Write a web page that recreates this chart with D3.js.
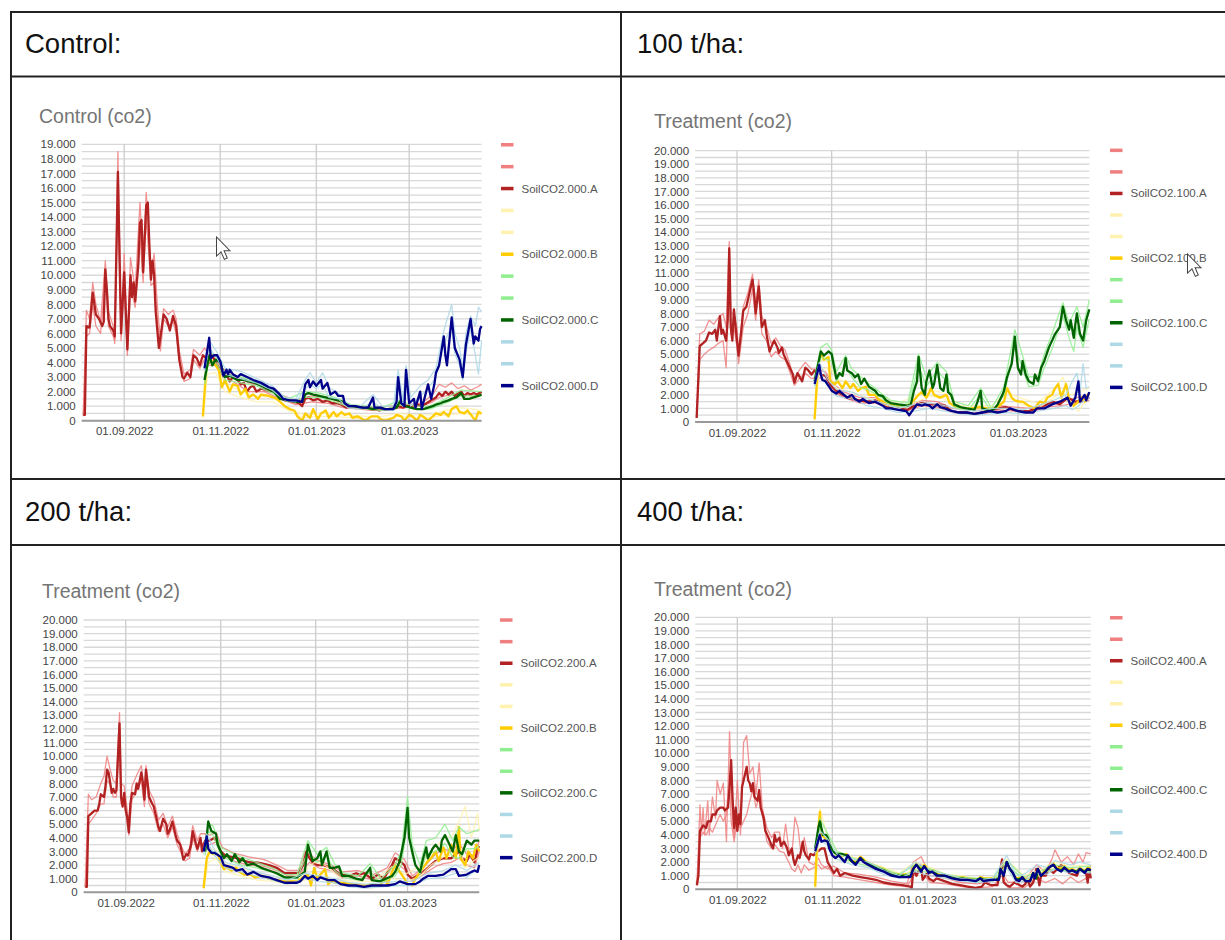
<!DOCTYPE html>
<html>
<head>
<meta charset="utf-8">
<script src="https://cdn.jsdelivr.net/npm/d3@7"></script>
<style>
  html, body { margin: 0; padding: 0; background: #fff; }
  svg { display: block; font-family: "Liberation Sans", Arial, Helvetica, sans-serif; }
</style>
</head>
<body>
<svg id="page" width="1225" height="940"></svg>
<script>
// Soil CO2 readings, values in thousands of ppm, keyed by day offset from 06.08.2022.
// Each plot: per plot letter one main sensor series plus two replicate series.

// ---------- Control (000) ----------
const s000A = [[0,0.4],[1,0.4],[2,6.5],[4,6.4],[6,8.8],[8,7.3],[10,7.0],[12,6.5],[13,6.8],[14,10.4],[15,9.0],[16,7.0],[17,6.5],[19,6.2],[20,5.8],[22,17.1],[24,6.0],[26,10.2],[28,4.9],[30,10.0],[31,8.5],[32,9.5],[33,8.2],[35,10.8],[36,13.6],[37,13.8],[38,10.2],[40,14.8],[41,15.0],[42,12.0],[43,9.7],[44,11.0],[45,10.0],[46,7.5],[48,5.0],[50,6.5],[51,7.3],[53,7.0],[55,6.2],[57,7.2],[59,6.5],[61,4.2],[63,3.0],[64,2.9],[66,3.3],[68,3.0],[70,4.5],[72,4.3],[74,3.8],[76,4.5],[78,4.3],[80,4.0],[82,4.5],[84,4.0],[87,3.5],[89,3.0],[91,3.2],[93,2.7],[95,3.0],[98,2.8],[100,2.5],[102,2.6],[104,2.0],[106,2.3],[108,2.4],[110,2.0],[113,2.2],[116,2.1],[119,2.0],[122,2.1],[125,1.6],[128,1.4],[131,1.4],[134,1.3],[137,1.2],[139,1.0],[141,1.5],[143,1.6],[146,1.4],[149,1.5],[152,1.3],[155,1.4],[158,1.2],[161,1.2],[164,1.1],[167,0.9],[170,1.0],[173,0.9],[176,0.9],[179,0.9],[182,0.8],[185,0.8],[188,0.7],[191,0.8],[194,0.8],[197,0.9],[200,1.0],[203,0.9],[206,1.0],[209,1.0],[212,1.1],[215,1.0],[218,1.2],[221,1.4],[224,1.6],[226,1.9],[228,1.7],[230,2.0],[232,1.8],[234,2.0],[236,1.7],[238,1.9],[240,2.0],[242,1.7],[244,1.9],[246,1.8],[248,1.9],[250,1.8],[253,2.0]];
const s000A_1 = [[0,0.4],[2,7.6],[4,7.0],[6,9.5],[8,8.0],[11,6.8],[14,11.0],[16,7.5],[19,6.5],[20,5.3],[22,18.5],[24,6.5],[26,11.5],[28,5.2],[30,11.2],[33,9.0],[36,15.0],[38,11.0],[40,15.7],[43,10.0],[45,11.5],[47,8.0],[49,5.5],[51,7.7],[54,7.3],[57,7.6],[59,7.0],[61,4.8],[64,3.2],[68,3.5],[70,4.9],[74,4.5],[77,5.0],[80,4.5],[84,4.2],[88,3.6],[95,3.2],[105,2.6],[115,2.4],[125,1.8],[135,1.4],[145,1.7],[155,1.6],[165,1.2],[175,1.0],[185,0.9],[195,1.0],[205,1.1],[215,1.2],[222,1.8],[226,2.5],[230,2.3],[234,2.6],[238,2.2],[242,2.4],[246,2.1],[250,2.3],[253,2.5]];
const s000A_2 = [[0,0.3],[2,5.8],[4,6.0],[6,8.0],[8,6.5],[11,6.0],[14,9.8],[16,6.5],[19,5.8],[20,5.5],[22,15.5],[24,5.5],[26,9.5],[28,4.5],[30,9.2],[33,7.8],[36,12.8],[38,9.5],[40,14.0],[43,9.3],[45,9.5],[47,7.0],[49,4.8],[51,7.0],[54,6.5],[57,6.8],[59,6.0],[61,4.0],[64,2.7],[68,2.9],[70,4.2],[74,3.6],[77,4.2],[80,3.8],[84,3.8],[88,3.2],[95,2.7],[105,2.0],[115,2.0],[125,1.5],[135,1.1],[145,1.3],[155,1.2],[165,0.9],[175,0.8],[185,0.7],[195,0.8],[205,0.9],[215,1.0],[222,1.3],[226,1.6],[230,1.7],[234,1.8],[238,1.7],[242,1.8],[246,1.7],[250,1.8],[253,1.9]];
const s000B = [[76,0.3],[78,3.5],[80,4.2],[83,4.0],[86,3.5],[88,2.3],[90,2.8],[93,2.0],[95,2.5],[98,2.4],[100,1.8],[103,2.2],[105,1.6],[108,1.8],[111,1.5],[113,1.8],[118,1.7],[123,1.5],[128,1.0],[131,0.8],[134,0.7],[136,0.3],[139,0.0],[141,0.5],[144,0.2],[146,0.8],[149,0.1],[151,0.5],[154,0.7],[156,0.2],[159,0.6],[161,0.3],[164,0.6],[166,0.4],[169,0.5],[171,0.2],[174,0.3],[176,0.2],[179,0.0],[183,0.3],[187,0.3],[189,0.1],[192,0.0],[197,0.2],[199,0.4],[202,0.3],[204,0.0],[207,0.4],[209,0.3],[212,0.0],[214,0.4],[217,0.2],[219,0.0],[222,0.3],[224,0.5],[227,0.4],[229,0.6],[232,0.3],[234,0.8],[237,1.0],[239,0.6],[242,0.5],[244,0.7],[247,0.3],[249,0.0],[251,0.6],[253,0.5]];
const s000B_1 = [[76,0.5],[79,4.5],[84,3.8],[90,2.6],[100,2.0],[110,1.7],[120,1.6],[130,0.9],[140,0.4],[150,0.5],[160,0.5],[170,0.4],[180,0.3],[190,0.3],[200,0.5],[210,0.4],[220,0.4],[230,0.7],[240,0.9],[253,0.7]];
const s000B_2 = [[76,0.2],[79,3.2],[84,3.3],[90,2.0],[100,1.6],[110,1.3],[120,1.3],[130,0.7],[140,0.2],[150,0.3],[160,0.3],[170,0.2],[180,0.1],[190,0.1],[200,0.3],[210,0.2],[220,0.2],[230,0.4],[240,0.5],[253,0.4]];
const s000C = [[77,2.8],[80,4.5],[82,3.8],[84,4.2],[87,4.0],[90,3.0],[93,3.1],[96,2.9],[98,2.8],[102,2.8],[105,2.7],[109,2.6],[113,2.4],[117,2.2],[121,2.0],[125,1.5],[130,1.4],[135,1.3],[139,1.3],[141,1.8],[143,1.9],[146,1.8],[150,1.7],[154,1.6],[158,1.5],[162,1.4],[165,1.3],[168,1.0],[172,1.0],[176,0.9],[180,0.9],[184,0.8],[188,0.9],[192,0.8],[196,0.8],[199,0.9],[201,1.3],[203,1.1],[205,1.0],[208,0.9],[212,0.8],[216,0.8],[219,0.9],[222,1.0],[224,1.1],[227,1.2],[229,1.3],[232,1.4],[234,1.5],[237,1.6],[240,1.9],[242,1.5],[245,1.5],[248,1.6],[251,1.7],[253,1.8]];
const s000C_1 = [[77,3.0],[80,4.8],[85,4.3],[90,3.2],[100,3.0],[110,2.7],[120,2.1],[130,1.5],[141,2.0],[150,1.9],[160,1.6],[170,1.1],[180,1.0],[190,0.9],[201,1.4],[210,1.0],[220,1.0],[230,1.5],[240,2.1],[253,2.0]];
const s000C_2 = [[77,2.5],[80,4.2],[85,3.9],[90,2.8],[100,2.6],[110,2.4],[120,1.9],[130,1.3],[141,1.6],[150,1.6],[160,1.3],[170,0.9],[180,0.8],[190,0.7],[201,1.1],[210,0.8],[220,0.8],[230,1.2],[240,1.7],[253,1.7]];
const s000D = [[77,3.6],[80,5.7],[81,4.3],[83,4.5],[85,4.5],[87,4.1],[89,3.1],[91,3.5],[92,3.2],[93,3.5],[95,3.2],[98,3.0],[100,3.2],[104,3.0],[108,2.8],[113,2.6],[118,2.3],[121,2.2],[124,1.9],[127,1.5],[131,1.4],[135,1.4],[139,1.3],[141,2.5],[143,2.8],[144,2.3],[146,2.7],[148,2.4],[151,2.8],[152,2.2],[155,2.6],[157,1.8],[160,2.0],[162,1.7],[165,1.7],[166,1.2],[169,1.0],[173,1.0],[177,0.9],[181,0.9],[184,1.6],[185,0.9],[189,0.9],[191,0.8],[194,0.8],[197,0.8],[199,1.3],[200,3.0],[202,1.2],[204,1.0],[205,3.5],[207,1.2],[210,1.5],[211,0.9],[214,2.0],[215,0.8],[219,2.5],[221,1.5],[223,2.5],[224,3.3],[226,3.8],[229,5.8],[230,4.5],[231,3.8],[234,7.1],[236,5.0],[239,4.2],[241,3.0],[243,5.2],[246,7.0],[248,5.3],[249,5.8],[251,5.5],[252,6.3],[253,6.5]];
const s000D_1 = [[77,3.8],[80,5.5],[85,4.7],[90,3.6],[100,3.4],[110,2.9],[120,2.4],[128,1.6],[135,1.5],[141,2.8],[144,3.3],[148,2.6],[152,3.3],[156,2.3],[162,1.9],[168,1.1],[176,1.0],[184,1.8],[190,1.0],[197,1.0],[200,3.5],[203,1.4],[205,3.8],[208,1.6],[214,2.4],[219,2.8],[224,3.6],[229,6.2],[234,8.0],[236,6.0],[239,5.0],[241,3.5],[243,6.0],[246,7.2],[249,6.5],[251,7.8],[253,7.5]];
const s000D_2 = [[77,3.4],[80,5.0],[85,4.3],[90,3.2],[100,2.9],[110,2.6],[120,2.1],[128,1.4],[135,1.3],[141,2.2],[144,2.5],[148,2.2],[152,2.5],[156,1.6],[162,1.5],[168,0.9],[176,0.8],[184,1.3],[190,0.8],[197,0.7],[200,2.6],[203,1.0],[205,3.0],[208,1.0],[214,1.7],[219,2.2],[224,3.0],[229,5.3],[234,6.5],[236,4.6],[239,3.8],[241,2.8],[243,4.6],[246,6.4],[249,4.5],[251,3.2],[253,5.5]];

// ---------- 100 t/ha ----------
const s100A = [[0,0.3],[2,5.6],[4,5.8],[6,6.0],[8,6.6],[10,6.5],[12,6.8],[13,6.0],[15,7.8],[16,6.5],[17,6.8],[19,6.0],[20,7.5],[21,12.8],[22,7.0],[23,6.0],[24,8.3],[26,6.0],[27,4.9],[29,7.0],[30,8.2],[32,8.5],[34,9.5],[36,10.5],[37,9.5],[38,8.0],[40,10.0],[41,8.5],[42,7.0],[44,7.5],[45,6.5],[47,5.2],[48,5.5],[50,6.0],[52,5.5],[53,5.1],[55,5.5],[56,5.0],[58,4.5],[60,4.0],[62,3.5],[63,2.9],[65,3.6],[68,3.0],[70,4.0],[72,3.8],[74,3.5],[76,3.8],[78,3.6],[80,3.5],[83,3.4],[86,2.8],[88,2.5],[90,2.3],[94,2.0],[97,1.8],[100,1.7],[105,1.6],[110,1.5],[115,1.6],[120,1.3],[125,1.1],[130,1.0],[136,0.9],[140,1.2],[145,1.4],[150,1.3],[155,1.3],[160,1.2],[164,0.8],[169,0.7],[174,0.7],[179,0.6],[184,0.7],[189,0.9],[194,1.0],[199,1.1],[204,0.9],[209,0.8],[214,0.8],[219,1.0],[224,1.2],[229,1.5],[234,1.3],[239,1.8],[244,1.5],[249,1.6],[253,1.8]];
const s100A_1 = [[0,0.3],[2,6.5],[5,6.7],[8,7.5],[11,7.2],[14,7.7],[17,8.0],[19,7.0],[21,13.3],[22,8.0],[24,8.0],[26,7.0],[27,5.0],[30,8.5],[33,9.5],[36,10.9],[38,8.5],[40,10.5],[42,7.8],[45,7.0],[48,5.8],[51,6.2],[54,5.6],[57,5.3],[60,4.3],[63,3.2],[66,3.8],[70,4.4],[74,3.9],[78,3.9],[83,3.7],[88,2.8],[95,2.2],[105,1.8],[115,1.8],[125,1.3],[135,1.1],[145,1.6],[155,1.5],[165,1.0],[175,0.9],[185,0.9],[195,1.2],[205,1.1],[215,1.0],[225,1.4],[235,1.5],[245,1.8],[253,2.0]];
const s100A_2 = [[0,0.3],[2,4.6],[5,5.0],[8,5.3],[11,5.5],[14,5.8],[17,6.0],[19,4.0],[21,11.0],[22,6.5],[24,7.0],[26,5.5],[27,4.3],[30,7.0],[33,8.0],[36,9.8],[38,7.5],[40,9.5],[42,6.5],[45,6.0],[48,4.8],[51,5.2],[54,4.8],[57,4.6],[60,3.7],[63,2.7],[66,3.2],[70,3.6],[74,3.2],[78,3.3],[83,3.1],[88,2.2],[95,1.8],[105,1.4],[115,1.4],[125,1.0],[135,0.8],[145,1.2],[155,1.1],[165,0.7],[175,0.6],[185,0.6],[195,0.9],[205,0.8],[215,0.7],[225,1.1],[235,1.2],[245,1.4],[253,1.6]];
const s100B = [[76,0.2],[78,4.0],[80,5.0],[82,4.6],[85,4.8],[86,3.0],[89,2.8],[91,3.0],[94,2.5],[96,3.0],[99,2.5],[101,2.8],[104,2.3],[106,2.5],[109,2.6],[111,2.0],[115,2.0],[117,1.7],[120,1.5],[125,1.3],[130,1.2],[136,1.2],[140,1.6],[143,2.0],[145,2.2],[148,1.8],[150,2.2],[151,2.5],[153,2.0],[157,1.8],[161,2.0],[163,1.4],[167,1.1],[172,1.0],[177,1.0],[182,1.1],[187,1.0],[192,1.0],[195,1.2],[198,1.5],[200,2.5],[203,1.8],[205,1.6],[208,1.5],[210,1.5],[214,1.2],[218,1.0],[219,1.2],[221,1.5],[224,1.4],[226,1.8],[229,2.0],[231,2.5],[233,2.8],[235,1.8],[238,2.8],[239,2.3],[240,1.5],[243,1.2],[245,1.4],[248,1.8],[250,1.5],[253,2.2]];
const s100B_1 = [[76,0.2],[79,4.6],[84,4.5],[90,3.2],[100,2.8],[110,2.3],[120,1.8],[130,1.4],[140,1.9],[150,2.4],[160,2.1],[170,1.2],[180,1.2],[190,1.2],[200,2.2],[210,1.7],[220,1.4],[230,2.4],[236,3.3],[240,2.0],[246,2.2],[253,2.5]];
const s100B_2 = [[76,0.1],[79,3.8],[84,4.0],[90,2.5],[100,2.2],[110,1.8],[120,1.3],[130,1.0],[140,1.4],[150,1.9],[160,1.7],[170,0.9],[180,0.9],[190,0.9],[200,1.8],[210,1.3],[220,1.0],[230,1.8],[236,2.3],[240,1.3],[246,0.8],[253,1.9]];
const s100C = [[76,3.0],[80,5.2],[82,4.9],[85,5.2],[87,5.0],[89,3.8],[90,3.2],[92,3.6],[94,3.4],[96,4.7],[97,3.8],[100,3.6],[102,3.3],[104,3.5],[106,2.8],[108,3.2],[111,2.6],[115,2.3],[117,2.0],[120,1.9],[122,1.6],[125,1.4],[130,1.3],[136,1.2],[138,1.3],[140,2.3],[142,3.0],[143,4.8],[145,2.5],[147,2.0],[148,3.0],[150,3.8],[152,2.5],[153,2.8],[155,4.2],[157,2.5],[159,2.3],[161,3.5],[162,2.2],[164,2.0],[166,1.3],[170,1.1],[174,1.0],[179,0.9],[181,1.5],[183,2.3],[184,1.0],[187,0.9],[189,0.8],[192,1.0],[194,1.3],[197,2.0],[198,2.3],[200,3.3],[203,4.3],[205,6.3],[207,4.0],[209,3.5],[210,4.5],[212,3.5],[214,3.0],[217,2.8],[218,3.5],[220,3.0],[222,4.0],[224,4.5],[227,5.5],[229,6.0],[231,6.5],[234,7.0],[236,8.5],[238,7.5],[240,6.8],[241,7.5],[243,6.2],[244,7.2],[245,8.0],[247,6.5],[249,6.0],[251,7.5],[253,8.3]];
const s100C_1 = [[76,3.3],[80,5.5],[84,5.8],[87,5.3],[90,3.7],[96,4.9],[100,3.9],[106,3.3],[110,2.9],[115,2.5],[120,2.0],[125,1.6],[136,1.4],[143,5.0],[148,3.3],[155,4.4],[161,3.7],[166,1.5],[175,1.2],[183,2.5],[190,1.0],[198,2.6],[205,6.8],[210,4.9],[214,3.3],[220,3.4],[224,5.0],[229,6.5],[236,8.8],[240,7.3],[245,8.5],[249,7.0],[253,9.0]];
const s100C_2 = [[76,2.7],[80,4.8],[84,4.6],[87,4.5],[90,3.0],[96,4.2],[100,3.3],[106,2.5],[110,2.4],[115,2.1],[120,1.7],[125,1.2],[136,1.1],[143,4.2],[148,2.6],[155,3.8],[161,3.0],[166,1.1],[175,0.9],[183,2.0],[190,0.7],[198,2.0],[205,5.5],[210,4.0],[214,2.6],[220,2.7],[224,4.0],[229,5.4],[236,7.8],[240,6.2],[243,5.2],[245,7.0],[249,5.5],[253,7.6]];
const s100D = [[76,2.8],[79,4.2],[80,3.5],[81,3.1],[83,3.0],[86,2.5],[87,2.3],[90,2.1],[92,2.3],[95,2.0],[97,1.8],[100,2.0],[102,1.7],[105,1.5],[107,1.7],[111,1.4],[115,1.5],[120,1.2],[122,1.0],[125,1.0],[130,0.9],[135,0.8],[137,0.5],[140,1.0],[142,1.3],[145,1.2],[147,1.3],[150,1.2],[152,1.0],[155,1.3],[157,1.1],[160,1.0],[162,0.9],[165,0.8],[169,0.7],[174,0.7],[179,0.6],[184,0.7],[189,0.8],[194,0.7],[199,0.8],[202,1.0],[207,0.8],[212,0.7],[217,0.7],[219,1.0],[224,1.0],[229,1.3],[234,1.5],[239,1.8],[241,1.2],[244,1.8],[246,3.0],[247,1.5],[250,2.0],[251,1.6],[253,2.2]];
const s100D_1 = [[76,3.0],[79,4.4],[84,3.2],[90,2.4],[100,2.2],[110,1.7],[120,1.4],[130,1.0],[140,1.3],[150,1.4],[160,1.2],[170,0.9],[180,0.8],[190,1.0],[200,1.0],[210,0.9],[220,1.2],[230,1.6],[238,2.0],[242,3.0],[245,3.6],[247,2.2],[249,4.3],[251,2.5],[253,2.6]];
const s100D_2 = [[76,2.6],[79,3.8],[84,2.7],[90,1.9],[100,1.7],[110,1.2],[120,1.0],[130,0.7],[140,0.8],[150,1.0],[160,0.8],[170,0.6],[180,0.5],[190,0.6],[200,0.7],[210,0.6],[220,0.8],[230,1.0],[238,1.2],[242,0.9],[245,1.1],[249,1.5],[253,1.8]];

// ---------- 200 t/ha ----------
const s200A = [[0,0.4],[1,0.4],[2,5.6],[4,5.8],[6,6.0],[8,6.0],[9,6.5],[10,7.2],[12,7.0],[13,7.8],[14,9.0],[15,8.8],[17,7.3],[18,7.6],[19,7.3],[20,7.5],[21,10.0],[22,12.4],[23,7.0],[24,6.3],[25,7.3],[26,6.0],[27,5.5],[28,4.4],[29,6.5],[30,7.3],[32,7.2],[33,8.0],[34,7.6],[36,8.8],[37,8.0],[38,6.8],[39,9.0],[40,8.0],[41,7.0],[43,6.5],[44,6.3],[45,5.8],[47,4.8],[48,4.5],[50,5.4],[52,5.0],[53,4.3],[54,4.5],[56,5.2],[58,4.2],[59,3.8],[61,3.5],[62,3.0],[63,2.4],[65,2.8],[66,2.7],[68,3.5],[69,4.5],[71,3.6],[72,3.2],[74,4.0],[75,3.0],[76,3.5],[77,3.8],[80,3.8],[83,4.0],[85,3.6],[87,3.0],[90,2.7],[94,2.6],[98,2.5],[102,2.3],[106,2.2],[110,2.2],[114,2.1],[118,2.0],[123,1.8],[128,1.4],[133,1.4],[137,1.4],[140,2.0],[142,3.0],[144,2.5],[146,2.2],[149,2.0],[153,2.0],[158,1.8],[164,1.3],[169,1.2],[174,1.4],[176,1.3],[179,1.4],[184,1.0],[188,1.3],[192,1.0],[194,1.5],[197,2.0],[199,2.5],[202,2.3],[205,2.0],[207,1.3],[210,1.0],[214,1.3],[217,1.5],[220,1.8],[225,2.3],[230,2.5],[235,2.5],[240,3.0],[242,2.5],[245,2.3],[247,2.8],[250,2.2],[252,3.2],[253,3.4]];
const s200A_1 = [[0,0.4],[2,7.2],[4,6.8],[7,7.0],[10,8.0],[12,8.5],[14,10.0],[16,9.0],[18,8.2],[20,8.0],[22,13.2],[23,8.0],[25,7.8],[27,6.0],[28,5.2],[30,7.8],[33,8.6],[36,9.3],[38,7.5],[39,9.3],[41,7.5],[44,6.8],[47,5.3],[50,5.8],[53,4.8],[56,5.6],[59,4.3],[62,3.3],[64,2.8],[67,3.2],[69,4.9],[72,3.8],[74,4.3],[77,4.3],[80,4.2],[84,4.4],[88,3.3],[95,2.9],[105,2.6],[115,2.4],[123,2.0],[130,1.6],[137,1.6],[141,3.0],[144,2.8],[150,2.3],[158,2.0],[165,1.5],[175,1.6],[185,1.3],[194,1.8],[199,2.9],[205,2.4],[210,1.2],[217,1.8],[225,2.8],[230,3.2],[235,3.0],[240,3.6],[245,2.8],[250,2.7],[253,3.8]];
const s200A_2 = [[0,0.4],[2,5.0],[4,5.3],[7,5.8],[10,6.5],[12,6.5],[14,8.2],[16,8.0],[18,7.0],[20,7.0],[22,11.5],[23,6.5],[25,6.8],[27,5.0],[28,4.2],[30,6.8],[33,7.5],[36,8.2],[38,6.3],[39,8.5],[41,6.5],[44,5.8],[47,4.5],[50,5.0],[53,4.0],[56,4.8],[59,3.5],[62,2.8],[64,2.3],[67,2.5],[69,4.0],[72,3.0],[74,3.7],[77,3.4],[80,3.5],[84,3.7],[88,2.8],[95,2.3],[105,2.0],[115,1.9],[123,1.6],[130,1.2],[137,1.2],[141,1.8],[144,2.2],[150,1.8],[158,1.6],[165,1.1],[175,1.2],[185,0.9],[194,1.3],[199,2.2],[205,1.7],[210,0.8],[217,1.3],[225,1.9],[230,2.1],[235,2.2],[240,2.5],[245,2.0],[250,1.8],[253,3.0]];
const s200B = [[76,0.3],[78,2.5],[80,3.0],[82,2.8],[85,2.8],[87,2.2],[89,1.7],[91,1.8],[94,1.6],[97,1.8],[99,1.5],[102,1.3],[106,1.3],[109,1.1],[113,1.2],[118,1.0],[123,0.9],[128,0.8],[136,0.8],[141,1.2],[143,1.3],[145,0.5],[147,1.8],[149,1.0],[151,1.3],[154,1.7],[156,0.6],[158,0.8],[161,0.7],[166,0.7],[172,0.6],[177,0.5],[182,0.5],[184,0.6],[189,0.5],[193,1.0],[194,0.5],[197,1.5],[199,2.0],[202,1.5],[205,1.0],[207,0.6],[210,0.5],[212,1.0],[215,1.5],[217,1.8],[220,2.3],[222,2.5],[225,3.0],[227,2.3],[230,3.3],[232,2.5],[235,3.5],[238,2.5],[240,4.8],[241,2.5],[244,2.0],[246,3.0],[249,2.5],[251,3.5],[252,3.3],[253,3.0]];
const s200B_1 = [[76,0.3],[79,3.3],[84,3.1],[90,2.1],[100,1.8],[110,1.4],[120,1.2],[130,1.0],[141,1.5],[147,2.2],[154,2.0],[165,0.9],[175,0.8],[185,0.8],[197,1.9],[205,1.3],[215,1.9],[222,3.0],[230,3.9],[236,4.2],[240,5.2],[244,6.3],[248,4.0],[252,5.8],[253,4.5]];
const s200B_2 = [[76,0.2],[79,2.2],[84,2.5],[90,1.5],[100,1.2],[110,0.9],[120,0.8],[130,0.6],[141,0.9],[147,1.4],[154,1.3],[165,0.5],[175,0.4],[185,0.3],[197,1.1],[205,0.7],[215,1.2],[222,2.0],[230,2.6],[236,2.8],[240,3.5],[244,1.8],[248,2.2],[252,2.5],[253,2.6]];
const s200C = [[77,3.0],[79,5.2],[81,4.5],[84,4.3],[85,3.5],[87,3.0],[89,2.5],[91,2.8],[94,2.3],[96,2.8],[99,2.2],[101,2.5],[104,2.0],[108,2.1],[113,1.8],[118,1.6],[123,1.4],[128,1.1],[136,1.1],[141,1.5],[143,3.5],[146,2.3],[149,2.5],[151,3.0],[152,2.0],[155,3.0],[157,1.8],[160,1.8],[163,1.9],[165,1.2],[169,1.2],[174,1.0],[178,0.9],[180,1.3],[183,1.8],[184,0.9],[189,0.8],[193,1.0],[197,1.2],[199,1.5],[202,2.3],[205,4.0],[207,6.2],[208,4.0],[210,3.0],[212,2.0],[215,1.5],[217,2.5],[219,3.3],[220,2.5],[223,3.2],[225,3.5],[228,3.0],[229,3.8],[231,4.2],[234,3.5],[236,3.0],[238,4.2],[240,3.0],[242,2.8],[245,3.8],[248,3.5],[250,3.8],[253,3.8]];
const s200C_1 = [[77,3.2],[79,5.0],[82,4.9],[87,3.3],[92,3.0],[100,2.6],[110,2.2],[120,1.8],[128,1.3],[136,1.3],[143,3.8],[149,2.8],[155,3.3],[160,2.1],[166,1.4],[175,1.2],[183,2.1],[190,1.0],[199,2.0],[203,3.0],[207,7.0],[210,3.5],[215,2.0],[219,3.8],[225,4.0],[231,5.0],[236,3.8],[240,4.8],[245,4.3],[250,4.5],[253,4.6]];
const s200C_2 = [[77,2.7],[79,4.5],[82,4.2],[87,2.8],[92,2.4],[100,2.0],[110,1.8],[120,1.5],[128,1.0],[136,1.0],[143,3.0],[149,2.2],[155,2.7],[160,1.6],[166,1.1],[175,0.9],[183,1.5],[190,0.7],[199,1.2],[203,2.0],[207,5.2],[210,2.6],[215,1.3],[219,2.8],[225,3.0],[231,3.6],[236,2.6],[240,2.5],[245,3.2],[250,3.2],[253,3.4]];
const s200D = [[76,3.0],[78,4.1],[79,3.2],[81,2.9],[83,2.9],[87,2.6],[89,2.0],[92,1.9],[95,1.8],[97,1.6],[101,1.7],[104,1.3],[108,1.5],[113,1.2],[118,1.1],[123,0.9],[128,0.7],[136,0.7],[138,0.8],[141,1.2],[143,1.0],[146,1.2],[149,0.9],[151,1.1],[156,0.9],[160,0.9],[164,0.6],[169,0.5],[174,0.5],[179,0.4],[184,0.5],[189,0.5],[194,0.5],[199,0.6],[202,0.8],[207,0.6],[212,0.6],[215,0.8],[217,1.0],[220,1.2],[225,1.2],[230,1.3],[235,1.7],[238,1.7],[240,1.2],[245,1.3],[248,1.5],[250,1.6],[252,1.5],[253,2.0]];
const s200D_1 = [[76,3.2],[78,4.3],[83,3.1],[90,2.2],[100,1.9],[110,1.5],[120,1.2],[130,0.9],[141,1.4],[150,1.2],[160,1.0],[170,0.7],[180,0.6],[190,0.7],[200,0.8],[210,0.8],[220,1.4],[230,1.6],[238,2.0],[245,1.6],[253,2.2]];
const s200D_2 = [[76,2.8],[78,3.8],[83,2.7],[90,1.8],[100,1.5],[110,1.2],[120,0.9],[130,0.6],[141,1.0],[150,0.8],[160,0.7],[170,0.4],[180,0.3],[190,0.4],[200,0.5],[210,0.5],[220,1.0],[230,1.1],[238,1.4],[245,1.1],[253,1.8]];

// ---------- 400 t/ha ----------
const s400A = [[0,0.3],[1,1.0],[2,4.3],[4,4.7],[6,4.5],[7,5.0],[9,5.0],[10,5.5],[12,5.5],[13,5.8],[15,6.0],[17,6.0],[18,5.8],[20,6.0],[21,7.5],[22,9.5],[23,6.5],[24,4.5],[25,6.0],[26,4.3],[27,5.5],[28,4.8],[29,7.5],[31,8.5],[32,9.0],[33,8.0],[34,7.8],[35,7.2],[36,7.8],[37,6.8],[39,6.5],[40,7.3],[41,6.0],[43,5.2],[44,4.3],[46,3.8],[48,3.2],[49,3.0],[50,4.0],[51,3.5],[53,3.8],[54,3.2],[56,3.5],[58,3.0],[59,2.5],[61,3.0],[62,2.2],[63,1.8],[65,2.5],[66,2.3],[68,3.5],[69,2.8],[70,2.5],[72,2.2],[73,2.6],[75,2.5],[77,2.8],[78,2.8],[80,3.0],[82,3.0],[83,2.5],[84,2.0],[86,1.6],[88,1.2],[90,1.5],[92,1.0],[95,1.2],[100,1.0],[105,0.9],[110,0.8],[115,0.7],[120,0.5],[125,0.4],[132,0.3],[137,0.2],[138,0.1],[139,1.5],[141,1.0],[144,1.8],[145,0.7],[148,1.2],[149,0.8],[152,0.6],[154,0.8],[159,0.6],[164,0.4],[169,0.3],[174,0.2],[179,0.1],[183,0.2],[185,0.5],[189,0.3],[193,0.3],[195,1.5],[196,2.2],[197,0.5],[199,0.3],[201,0.2],[204,0.5],[209,0.2],[211,0.4],[212,0.8],[214,0.2],[216,0.5],[218,1.5],[220,0.3],[221,1.0],[224,1.0],[226,1.5],[229,1.2],[234,1.8],[236,1.5],[239,1.2],[244,1.0],[246,1.5],[249,1.3],[250,1.2],[251,0.5],[252,1.5],[253,0.8]];
const s400A_1 = [[0,0.3],[1,3.0],[2,6.2],[3,4.2],[4,6.0],[5,4.0],[7,6.5],[8,4.0],[10,6.8],[12,5.2],[13,8.0],[15,7.0],[17,7.8],[19,3.5],[21,11.6],[22,8.0],[23,4.8],[24,3.8],[26,8.0],[28,4.0],[30,10.8],[32,11.3],[34,8.5],[36,9.0],[38,7.0],[40,9.3],[42,6.0],[45,4.5],[48,3.8],[50,4.2],[53,4.2],[55,3.0],[57,4.8],[59,3.0],[61,2.5],[63,5.3],[65,4.5],[67,2.5],[69,3.8],[72,2.0],[75,1.8],[78,2.3],[80,1.8],[84,1.5],[88,1.7],[95,1.2],[105,1.1],[115,0.9],[125,0.6],[135,0.4],[139,2.0],[144,2.4],[150,1.0],[160,0.8],[170,0.5],[180,0.4],[190,0.6],[196,1.2],[200,0.5],[210,0.6],[218,1.8],[224,1.3],[228,2.2],[230,2.9],[234,2.0],[238,2.4],[242,1.8],[245,2.6],[248,2.0],[250,2.7],[253,2.6]];
const s400A_2 = [[0,0.3],[2,3.8],[4,4.2],[6,4.0],[8,4.5],[10,4.2],[13,5.0],[15,5.5],[17,5.0],[19,5.5],[21,8.5],[22,5.0],[24,3.5],[26,5.5],[28,4.5],[30,5.0],[32,5.5],[34,6.5],[36,7.3],[38,6.0],[40,6.8],[42,5.5],[45,3.5],[48,3.0],[50,3.3],[53,2.8],[56,2.7],[59,2.0],[61,1.5],[63,1.3],[65,1.8],[67,1.2],[69,1.8],[72,1.4],[75,1.6],[78,1.8],[80,1.5],[84,1.7],[88,1.0],[95,0.9],[105,0.7],[115,0.5],[125,0.3],[135,0.2],[139,1.0],[144,1.3],[150,0.5],[160,0.4],[170,0.2],[180,0.1],[190,0.2],[196,1.0],[200,0.1],[210,0.1],[218,0.8],[224,0.5],[230,0.8],[235,0.4],[240,0.9],[245,0.5],[250,0.8],[253,1.8]];
const s400B = [[76,0.2],[77,3.0],[79,5.7],[80,4.0],[82,3.8],[84,3.5],[87,2.8],[90,2.5],[93,2.4],[96,2.6],[99,2.2],[102,2.0],[105,2.4],[108,2.1],[111,1.9],[115,1.7],[120,1.5],[125,1.2],[130,1.1],[135,1.1],[137,1.0],[139,1.6],[141,1.9],[144,1.5],[146,1.8],[149,1.4],[152,1.4],[155,1.1],[160,1.0],[165,0.9],[170,0.9],[175,0.8],[180,0.7],[182,0.9],[185,0.8],[190,0.8],[194,0.9],[195,1.5],[197,1.1],[199,2.0],[201,1.5],[203,1.2],[205,0.8],[209,0.9],[212,0.7],[214,0.8],[216,1.2],[218,0.9],[219,1.5],[221,1.1],[224,1.4],[226,1.7],[229,1.9],[231,1.6],[234,1.5],[236,1.7],[239,1.4],[241,1.5],[244,1.3],[246,1.6],[249,1.3],[251,1.6],[253,1.5]];
const s400B_1 = [[76,0.3],[79,6.0],[84,3.8],[90,2.7],[100,2.4],[110,2.0],[120,1.6],[130,1.2],[140,2.0],[150,1.6],[160,1.1],[170,1.0],[180,0.8],[190,0.9],[199,2.2],[210,1.0],[220,1.4],[230,2.0],[240,1.7],[253,1.8]];
const s400B_2 = [[76,0.1],[79,4.8],[84,3.2],[90,2.2],[100,2.0],[110,1.7],[120,1.3],[130,0.9],[140,1.5],[150,1.2],[160,0.8],[170,0.7],[180,0.6],[190,0.7],[199,1.7],[210,0.8],[220,1.0],[230,1.6],[240,1.3],[253,1.3]];
const s400C = [[76,3.0],[78,4.5],[79,5.0],[81,4.0],[83,4.0],[84,3.8],[87,2.8],[90,2.6],[93,2.6],[96,2.5],[99,2.1],[102,1.9],[105,2.3],[108,2.0],[111,1.8],[115,1.6],[120,1.4],[125,1.1],[130,1.0],[135,1.0],[137,0.9],[139,1.5],[141,1.8],[144,1.4],[146,1.7],[149,1.3],[152,1.3],[155,1.0],[160,1.0],[165,0.8],[170,0.8],[175,0.7],[180,0.7],[182,0.8],[185,0.7],[190,0.7],[194,0.8],[195,1.5],[197,1.0],[199,2.0],[201,1.5],[203,1.2],[205,0.7],[209,0.8],[212,0.6],[214,0.6],[216,1.2],[218,0.8],[219,1.5],[221,1.0],[224,1.3],[226,1.6],[229,1.8],[231,1.5],[234,1.4],[236,1.6],[239,1.3],[241,1.4],[244,1.3],[246,1.5],[249,1.3],[251,1.5],[253,1.4]];
const s400C_1 = [[76,3.2],[79,5.2],[84,4.1],[90,2.8],[100,2.3],[110,2.0],[120,1.5],[130,1.1],[140,1.8],[150,1.5],[160,1.1],[170,0.9],[180,0.8],[190,0.8],[199,2.1],[210,0.9],[220,1.3],[230,1.8],[240,1.6],[253,1.7]];
const s400C_2 = [[76,2.8],[79,4.6],[84,3.6],[90,2.4],[100,2.0],[110,1.7],[120,1.3],[130,0.9],[140,1.4],[150,1.2],[160,0.9],[170,0.7],[180,0.6],[190,0.6],[199,1.8],[210,0.7],[220,1.1],[230,1.5],[240,1.3],[253,1.3]];
const s400D = [[76,2.8],[79,4.0],[80,3.5],[82,3.6],[84,3.5],[85,3.0],[87,2.5],[89,2.3],[91,2.5],[95,2.0],[97,2.5],[100,2.0],[102,1.8],[105,2.3],[107,2.0],[110,1.8],[115,1.5],[120,1.3],[125,1.0],[130,0.9],[137,0.9],[139,1.5],[141,1.8],[144,1.3],[146,1.7],[149,1.2],[151,1.3],[154,1.0],[159,1.0],[164,0.8],[169,0.7],[174,0.7],[179,0.6],[182,0.8],[184,0.6],[189,0.7],[194,0.7],[195,1.5],[197,1.0],[199,2.0],[201,1.5],[203,1.2],[205,0.7],[207,0.6],[209,0.9],[211,0.6],[214,0.6],[216,1.2],[217,0.8],[219,1.5],[221,1.0],[224,1.3],[226,1.6],[229,1.8],[231,1.5],[234,1.3],[236,1.6],[239,1.3],[241,1.4],[244,1.2],[246,1.5],[249,1.2],[251,1.5],[253,1.4]];
const s400D_1 = [[76,3.0],[79,4.3],[84,3.7],[90,2.6],[100,2.2],[110,2.0],[120,1.4],[130,1.0],[140,2.0],[150,1.4],[160,1.1],[170,0.8],[180,0.7],[190,0.8],[199,2.5],[205,1.0],[210,1.1],[219,1.8],[225,1.6],[230,2.1],[236,1.9],[240,1.8],[246,2.0],[253,1.8]];
const s400D_2 = [[76,2.6],[79,3.7],[84,3.2],[90,2.2],[100,1.8],[110,1.6],[120,1.1],[130,0.8],[140,1.3],[150,1.0],[160,0.8],[170,0.6],[180,0.5],[190,0.6],[199,1.6],[205,0.5],[210,0.6],[219,1.2],[225,1.1],[230,1.5],[236,1.3],[240,1.2],[246,1.3],[253,1.2]];

// Axis ticks and labels
const monthTicks = ["2022-09-01", "2022-11-01", "2023-01-01", "2023-03-01"];
const plotLetters = ["A", "B", "C", "D"];
const headers = ["Control:", "100 t/ha:", "200 t/ha:", "400 t/ha:"];
const titles = ["Control (co2)", "Treatment (co2)", "Treatment (co2)", "Treatment (co2)"];
const treatmentCodes = ["000", "100", "200", "400"];
const yMaxima = [19, 20, 20, 20];

// Colours: [replicate colour, main colour] per plot letter
const replicateColors = ["#f08080", "#fff1b0", "#90ee90", "#add8e6"];
const mainColors = ["#b22222", "#ffcc00", "#006400", "#00008b"];

const seriesByPanel = [
  [[s000A_1, s000A_2, s000A], [s000B_1, s000B_2, s000B], [s000C_1, s000C_2, s000C], [s000D_1, s000D_2, s000D]],
  [[s100A_1, s100A_2, s100A], [s100B_1, s100B_2, s100B], [s100C_1, s100C_2, s100C], [s100D_1, s100D_2, s100D]],
  [[s200A_1, s200A_2, s200A], [s200B_1, s200B_2, s200B], [s200C_1, s200C_2, s200C], [s200D_1, s200D_2, s200D]],
  [[s400A_1, s400A_2, s400A], [s400B_1, s400B_2, s400B], [s400C_1, s400C_2, s400C], [s400D_1, s400D_2, s400D]]
];

// ---------- page layout ----------
const layouts = [
  { hx: 25,  hy: 53,  tx: 39,  ty: 122.5, left: 81.7,  right: 481.6,  top: 144.3, bottom: 420.7, lx: 501,  ly: 144.7, lstep: 21.9 },
  { hx: 637, hy: 53,  tx: 654, ty: 128,   left: 695.1, right: 1089.3, top: 150.7, bottom: 422,   lx: 1110, ly: 150.3, lstep: 21.55 },
  { hx: 25,  hy: 521, tx: 42,  ty: 598,   left: 83.7,  right: 479.2,  top: 620,   bottom: 892.3, lx: 500,  ly: 620,   lstep: 21.6 },
  { hx: 637, hy: 521, tx: 654, ty: 595.5, left: 695.3, right: 1090.8, top: 617.3, bottom: 889.3, lx: 1110, ly: 617.7, lstep: 21.5 }
];

const svg = d3.select("#page");
const DAY0 = Date.UTC(2022, 7, 6);
const toDate = d => new Date(DAY0 + d * 864e5);
const deFormat = d3.formatLocale({ decimal: ",", thousands: ".", grouping: [3], currency: ["", "\u00a0€"] }).format(",");
const dateFmt = d3.utcFormat("%d.%m.%Y");

// ---------- table frame ----------
const frame = svg.append("g").attr("stroke", "#222").attr("stroke-width", 2);
[12, 76.5, 479, 545].forEach(y =>
  frame.append("line").attr("x1", 10).attr("x2", 1225).attr("y1", y).attr("y2", y));
[11, 621].forEach(x =>
  frame.append("line").attr("x1", x).attr("x2", x).attr("y1", 11).attr("y2", 940));

headers.forEach((h, i) => {
  svg.append("text").attr("x", layouts[i].hx).attr("y", layouts[i].hy)
    .attr("font-size", 27.5).attr("fill", "#111").text(h);
});

// ---------- charts ----------
layouts.forEach((L, p) => {
  const g = svg.append("g");
  const yMax = yMaxima[p];
  const x = d3.scaleUtc().domain([toDate(-1), toDate(253)]).range([L.left, L.right]);
  const y = d3.scaleLinear().domain([0, yMax]).range([L.bottom, L.top]);

  g.append("text").attr("x", L.tx).attr("y", L.ty).attr("font-size", 19.5)
    .attr("fill", "#757575").text(titles[p]);

  // horizontal gridlines every 500
  const gridVals = d3.range(0, yMax + 0.001, 0.5);
  g.append("g").selectAll("line").data(gridVals).join("line")
    .attr("x1", L.left).attr("x2", L.right)
    .attr("y1", d => y(d)).attr("y2", d => y(d))
    .attr("stroke", "#d8d8d8").attr("stroke-width", 1.3);

  // vertical gridlines at month ticks
  const tickDates = monthTicks.map(s => new Date(s + "T00:00:00Z"));
  g.append("g").selectAll("line").data(tickDates).join("line")
    .attr("x1", d => x(d)).attr("x2", d => x(d))
    .attr("y1", L.top).attr("y2", L.bottom)
    .attr("stroke", "#cccccc").attr("stroke-width", 1.3);

  // y axis labels
  const yAxis = d3.axisLeft(y).tickValues(d3.range(0, yMax + 1, 1))
    .tickFormat(v => v === 0 ? "0" : deFormat(v * 1000)).tickSize(0).tickPadding(0);
  const ya = g.append("g").attr("transform", `translate(${L.left - 6},0)`).call(yAxis);
  ya.select(".domain").remove();
  ya.selectAll("text").attr("font-size", 11.5).attr("fill", "#444")
    .attr("font-family", "'Liberation Sans', Arial, sans-serif");

  // x axis labels
  const xAxis = d3.axisBottom(x).tickValues(tickDates).tickFormat(dateFmt).tickSize(0).tickPadding(0);
  const xa = g.append("g").attr("transform", `translate(0,${L.bottom + 6})`).call(xAxis);
  xa.select(".domain").remove();
  xa.selectAll("text").attr("font-size", 11.5).attr("fill", "#444").attr("dy", "0.75em")
    .attr("font-family", "'Liberation Sans', Arial, sans-serif");

  // series lines in legend order (replicates first, main on top)
  const line = d3.line().x(d => x(toDate(d[0]))).y(d => y(d[1]));
  seriesByPanel[p].forEach((group, k) => {
    group.forEach((data, j) => {
      const isMain = j === 2;
      g.append("path").datum(data).attr("d", line).attr("fill", "none")
        .attr("stroke", isMain ? mainColors[k] : replicateColors[k])
        .attr("stroke-width", isMain ? 2.3 : 1.3)
        .attr("stroke-opacity", isMain ? 1 : 0.85)
        .attr("stroke-linejoin", "round");
    });
  });

  // zero baseline
  g.append("line").attr("x1", L.left).attr("x2", L.right)
    .attr("y1", y(0)).attr("y2", y(0)).attr("stroke", "#999").attr("stroke-width", 2);

  // legend
  const items = [];
  plotLetters.forEach((letter, k) => {
    items.push({ color: replicateColors[k], label: "" });
    items.push({ color: replicateColors[k], label: "" });
    items.push({ color: mainColors[k], label: `SoilCO2.${treatmentCodes[p]}.${letter}` });
  });
  const lg = g.append("g");
  items.forEach((it, i) => {
    const cy = L.ly + i * L.lstep;
    lg.append("rect").attr("x", L.lx).attr("y", cy - 1.7).attr("width", 12.5).attr("height", 3.5)
      .attr("fill", it.color);
    if (it.label) {
      lg.append("text").attr("x", L.lx + 20.5).attr("y", cy).attr("dy", "0.35em")
        .attr("font-size", 11.5).attr("fill", "#555").text(it.label);
    }
  });
});

// pointer glyphs resting over the charts
const pointerPath = "M0,0 L0,17 L4,13.2 L7,20 L9.6,18.8 L6.8,12.2 L12,12.2 Z";
[[216.5, 237], [1187.5, 254]].forEach(([px, py]) => {
  svg.append("path").attr("d", pointerPath)
    .attr("transform", `translate(${px},${py}) scale(1.12)`)
    .attr("fill", "#fff").attr("stroke", "#444").attr("stroke-width", 0.9);
});
</script>
</body>
</html>
